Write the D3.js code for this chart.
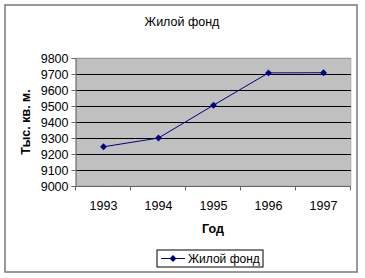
<!DOCTYPE html>
<html>
<head>
<meta charset="utf-8">
<script src="https://cdn.jsdelivr.net/npm/d3@7"></script>
<style>
  body { margin: 0; background: #fff; }
  svg { display: block; font-family: "Liberation Sans", Arial, sans-serif; }
</style>
</head>
<body>
<svg id="chart" width="365" height="278"></svg>
<script>
const years = ['1993', '1994', '1995', '1996', '1997'];
const housing = [9245, 9300, 9505, 9707, 9708];
const yTicks = [9000, 9100, 9200, 9300, 9400, 9500, 9600, 9700, 9800];

const svg = d3.select('#chart');
const plot = { left: 76, top: 58, right: 351, bottom: 186 };
const fs = '12.5px';

// outer frame
svg.append('rect')
  .attr('x', 5).attr('y', 5).attr('width', 352).attr('height', 267)
  .attr('fill', '#fff').attr('stroke', '#777').attr('stroke-width', 1.5);

svg.append('text')
  .attr('x', 182).attr('y', 26)
  .attr('text-anchor', 'middle')
  .style('font-size', fs)
  .text('Жилой фонд');

const x = d3.scaleBand().domain(years).range([plot.left, plot.right]);
const y = d3.scaleLinear().domain([9000, 9800]).range([plot.bottom, plot.top]);

svg.append('rect')
  .attr('x', plot.left).attr('y', plot.top)
  .attr('width', plot.right - plot.left).attr('height', plot.bottom - plot.top)
  .attr('fill', '#c0c0c0').attr('stroke', '#999').attr('stroke-width', 0.5);

// gridlines
svg.append('g')
  .selectAll('line')
  .data(yTicks.slice(1))
  .enter().append('line')
  .attr('x1', plot.left).attr('x2', plot.right)
  .attr('y1', d => Math.round(y(d)) + 0.5).attr('y2', d => Math.round(y(d)) + 0.5)
  .attr('stroke', d => d === 9800 ? '#999' : '#000')
  .attr('stroke-width', 1);

// y axis
const yAxis = svg.append('g')
  .attr('transform', `translate(${plot.left - 0.5},0)`)
  .call(d3.axisLeft(y).tickValues(yTicks).tickSize(4).tickPadding(3).tickFormat(d3.format('d')));
yAxis.selectAll('text').style('font-size', fs).attr('fill', '#000');
yAxis.selectAll('line, path').attr('stroke', '#666');

// x axis with ticks at category boundaries
const xAxis = svg.append('g')
  .attr('transform', `translate(0,${plot.bottom + 0.5})`);
xAxis.append('line')
  .attr('x1', plot.left).attr('x2', plot.right)
  .attr('stroke', '#666');
xAxis.selectAll('line.tick')
  .data(years.concat(['end']))
  .enter().append('line')
  .attr('class', 'tick')
  .attr('x1', (d, i) => Math.round(plot.left + i * x.bandwidth()) - 0.5)
  .attr('x2', (d, i) => Math.round(plot.left + i * x.bandwidth()) - 0.5)
  .attr('y1', 0).attr('y2', 4)
  .attr('stroke', '#666');
xAxis.selectAll('text')
  .data(years)
  .enter().append('text')
  .attr('x', d => x(d) + x.bandwidth() / 2)
  .attr('y', 23)
  .attr('text-anchor', 'middle')
  .style('font-size', fs)
  .text(d => d);

// axis titles
svg.append('text')
  .attr('transform', 'translate(30,122) rotate(-90)')
  .attr('text-anchor', 'middle')
  .style('font-size', fs).style('font-weight', 'bold')
  .text('Тыс. кв. м.');

svg.append('text')
  .attr('x', 213).attr('y', 233)
  .attr('text-anchor', 'middle')
  .style('font-size', fs).style('font-weight', 'bold')
  .text('Год');

// series
const pts = years.map((yr, i) => [x(yr) + x.bandwidth() / 2, y(housing[i])]);
svg.append('path')
  .attr('d', d3.line()(pts))
  .attr('fill', 'none').attr('stroke', '#000080').attr('stroke-width', 1);

const diamond = d3.symbol().type(d3.symbolDiamond2).size(30);
svg.append('g')
  .selectAll('path')
  .data(pts)
  .enter().append('path')
  .attr('transform', d => `translate(${d[0]},${d[1]})`)
  .attr('d', diamond)
  .attr('fill', '#000080');

// legend
const lg = svg.append('g').attr('transform', 'translate(157,250)');
lg.append('rect')
  .attr('width', 106).attr('height', 17)
  .attr('fill', '#fff').attr('stroke', '#000').attr('stroke-width', 1);
lg.append('line')
  .attr('x1', 4).attr('x2', 28).attr('y1', 8.5).attr('y2', 8.5)
  .attr('stroke', '#000080');
lg.append('path')
  .attr('transform', 'translate(16,8.5)')
  .attr('d', diamond)
  .attr('fill', '#000080');
lg.append('text')
  .attr('x', 31).attr('y', 13)
  .style('font-size', '12px')
  .text('Жилой фонд');
</script>
</body>
</html>
